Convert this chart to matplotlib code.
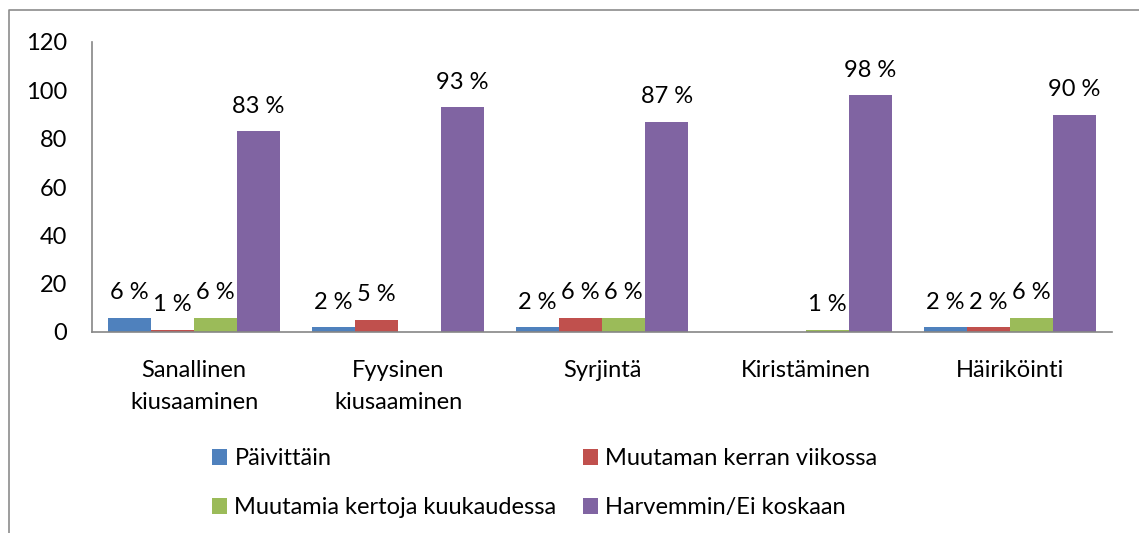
import numpy as np
import matplotlib
matplotlib.use("Agg")
import matplotlib.pyplot as plt
from matplotlib.lines import Line2D

plt.rcParams['font.family'] = ['Lato', 'DejaVu Sans']

categories = ['Sanallinen\nkiusaaminen', 'Fyysinen\nkiusaaminen', 'Syrjintä',
              'Kiristäminen', 'Häiriköinti']
series_names = ['Päivittäin', 'Muutaman kerran viikossa',
                'Muutamia kertoja kuukaudessa', 'Harvemmin/Ei koskaan']
paivittain = [6, 2, 2, 0, 2]
viikossa = [1, 5, 6, 0, 2]
kuukaudessa = [6, 0, 6, 1, 6]
harvemmin = [83, 93, 87, 98, 90]
colors = ['#4F81BD', '#C0504D', '#9BBB59', '#8064A2']

fs = 17
fig = plt.figure(figsize=(11.39, 5.33), dpi=100)
ax = fig.add_axes([92/1139, 1-332/533, (1112-92)/1139, (332-42)/533])

x = np.arange(len(categories))
w = 0.211
bars = []
for i, (vals, name, c) in enumerate(zip([paivittain, viikossa, kuukaudessa, harvemmin],
                                        series_names, colors)):
    pos = x + (i - 1.5) * w
    bars.append(ax.bar(pos, vals, w, color=c, label=name, zorder=2))
    for p, v in zip(pos, vals):
        if v > 0:
            ax.text(p, v + 6, f'{v} %', ha='center', va='bottom', fontsize=fs)

ax.set_xlim(-0.5, len(categories) - 0.5)
ax.set_ylim(0, 120)
ax.set_yticks(range(0, 121, 20))
ax.set_xticks(x)
ax.set_xticklabels(categories, linespacing=1.65)
ax.tick_params(axis='y', length=0, pad=18, labelsize=fs)
ax.tick_params(axis='x', length=0, pad=20, labelsize=fs)
for s in ['top', 'right']:
    ax.spines[s].set_visible(False)
for s in ['left', 'bottom']:
    ax.spines[s].set_color('#868686')
    ax.spines[s].set_linewidth(1.2)

# row-major legend order: Päivittäin | Muutaman..., Muutamia... | Harvemmin...
order = [0, 2, 1, 3]
fig.legend([bars[i] for i in order], [series_names[i] for i in order],
           loc='upper left', bbox_to_anchor=(212/1139, 1-448/533), ncol=2,
           frameon=False, fontsize=fs, handlelength=0.65, handleheight=0.65,
           handletextpad=0.3, columnspacing=1.1, labelspacing=1.2, borderpad=0,
           borderaxespad=0)

# outer chart frame (only left and top edges visible)
fig.add_artist(Line2D([9/1139, 9/1139, 1.0], [0, 1-10/533, 1-10/533],
                      transform=fig.transFigure, color='#8c8c8c', lw=1.2))

fig.savefig('out.png', dpi=100)
